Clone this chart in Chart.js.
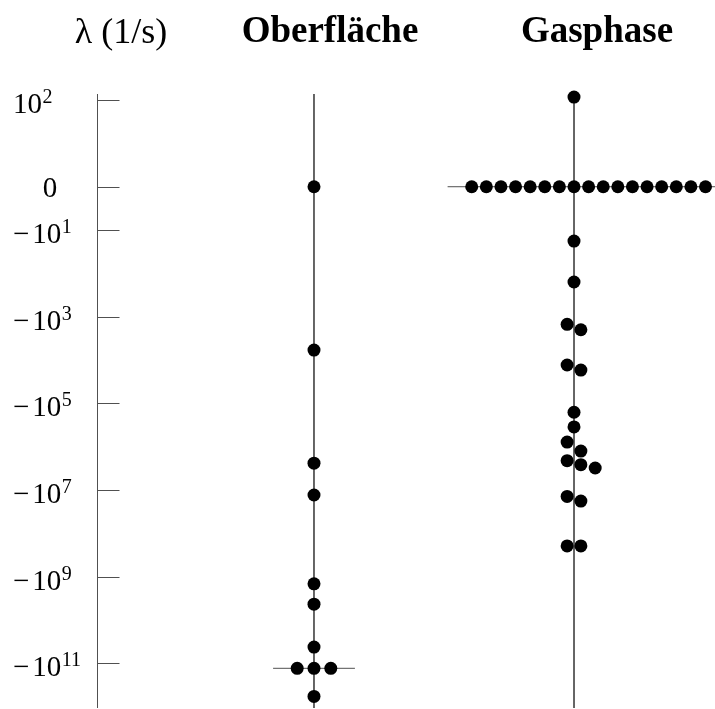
<!DOCTYPE html>
<html lang="de">
<head>
<meta charset="UTF-8">
<title>Eigenwerte Oberfläche / Gasphase</title>
<script src="https://cdn.jsdelivr.net/npm/chart.js@4.4.1/dist/chart.umd.min.js"></script>
<style>
  body { margin: 0; background: #fff; }
</style>
</head>
<body>
<canvas id="myChart" width="715" height="709"></canvas>
<script>
// Eigenwerte lambda (1/s)
const oberValues = [0, -5.9e3, -2.4e6, -1.3e7, -1.46e9, -4.3e9, -4.2e10, -1.3e11, -1.3e11, -1.3e11, -5.8e11];
const oberSlots  = [0, 0, 0, 0, 0, 0, 0, -1.15, 0, 1.15, 0];

const gasValues = [117,
  0, 0, 0, 0, 0, 0, 0, 0, 0, 0, 0, 0, 0, 0, 0, 0, 0,
  -18, -158, -1.5e3, -2.0e3, -1.3e4, -1.7e4, -1.6e5, -3.5e5, -7.8e5, -1.26e6,
  -2.1e6, -2.6e6, -3.1e6, -1.4e7, -1.8e7, -1.95e8, -1.95e8];
const gasSlots = [0,
  -7, -6, -5, -4, -3, -2, -1, 0, 1, 2, 3, 4, 5, 6, 7, 8, 9,
  0, 0, -0.47, 0.47, -0.47, 0.47, 0, 0, -0.47, 0.47,
  -0.47, 0.47, 1.45, -0.47, 0.47, -0.47, 0.47];

// Zeilen mit gleichen Werten bekommen eine waagerechte Linie
const oberRows = [-1.3e11];
const gasRows = [0];

const tickValues = [1e2, 0, -1e1, -1e3, -1e5, -1e7, -1e9, -1e11];
// [Vorzeichen, Basis, Exponent]
const tickLabels = [['', '10', '2'], ['', '0', ''], ['\u2212', '10', '1'], ['\u2212', '10', '3'],
                    ['\u2212', '10', '5'], ['\u2212', '10', '7'], ['\u2212', '10', '9'], ['\u2212', '10', '11']];

const titles = ['\u03bb (1/s)', 'Oberfl\u00e4che', 'Gasphase'];

// symmetrisch-logarithmische Achse
const symlog = v => v === 0 ? 0 : Math.sign(v) * Math.log10(Math.abs(v));

const yMin = -12.03, yMax = 2.14;
const slotStep = 0.0562;

function dots(col, values, slots) {
  return values.map((v, i) => ({ x: col + slots[i] * slotStep, y: symlog(v) }));
}

function rowLine(col, values, slots, rowValue) {
  const s = slots.filter((_, i) => values[i] === rowValue);
  return [
    { x: col + (Math.min(...s) - 1.65) * slotStep, y: symlog(rowValue) },
    { x: col + (Math.max(...s) + 1.65) * slotStep, y: symlog(rowValue) }
  ];
}

const lineStyle = {
  showLine: true, borderColor: '#505050', borderWidth: 1,
  pointRadius: 0, pointHoverRadius: 0, order: 2, clip: false
};
const dotStyle = {
  backgroundColor: '#000', borderWidth: 0, pointRadius: 6.5,
  pointHoverRadius: 6.5, order: 1, clip: false
};

const datasets = [
  { ...lineStyle, data: [{ x: 1, y: yMax }, { x: 1, y: yMin }] },
  { ...lineStyle, data: [{ x: 2, y: yMax }, { x: 2, y: yMin }] },
  ...oberRows.map(r => ({ ...lineStyle, data: rowLine(1, oberValues, oberSlots, r) })),
  ...gasRows.map(r => ({ ...lineStyle, data: rowLine(2, gasValues, gasSlots, r) })),
  { ...dotStyle, label: 'Oberfläche', data: dots(1, oberValues, oberSlots) },
  { ...dotStyle, label: 'Gasphase', data: dots(2, gasValues, gasSlots) }
];

const axisDecor = {
  id: 'axisDecor',
  afterDraw(chart) {
    const { ctx, chartArea, scales: { y } } = chart;
    ctx.save();
    ctx.strokeStyle = '#505050';
    ctx.lineWidth = 1;
    const ax = chartArea.left + 0.5;
    ctx.beginPath();
    ctx.moveTo(ax, chartArea.top);
    ctx.lineTo(ax, chartArea.bottom);
    ctx.stroke();

    ctx.fillStyle = '#000';
    ctx.textBaseline = 'alphabetic';
    tickValues.forEach((v, i) => {
      const py = Math.round(y.getPixelForValue(symlog(v))) + 0.5;
      ctx.beginPath();
      ctx.moveTo(ax, py);
      ctx.lineTo(ax + 22, py);
      ctx.stroke();
      const [sign, base, exp] = tickLabels[i];
      ctx.font = '29px "Liberation Serif"';
      if (!exp) {
        ctx.textAlign = 'center';
        ctx.fillText(base, 50, py + 9.5);
        return;
      }
      ctx.textAlign = 'left';
      let x = 13;
      if (sign) {
        ctx.fillText(sign, x, py + 12);
        x += ctx.measureText(sign).width + 3;
      }
      ctx.fillText(base, x, py + 12);
      x += ctx.measureText(base).width;
      ctx.font = '20px "Liberation Serif"';
      ctx.fillText(exp, x + 0.5, py + 2.5);
    });

    ctx.textAlign = 'center';
    ctx.font = '36px "Liberation Serif"';
    ctx.fillText(titles[0], 121, 43);
    ctx.font = 'bold 37px "Liberation Serif"';
    ctx.fillText(titles[1], 330, 42);
    ctx.fillText(titles[2], 597, 42);
    ctx.restore();
  }
};

new Chart(document.getElementById('myChart'), {
  type: 'scatter',
  data: { datasets },
  options: {
    responsive: false,
    animation: false,
    devicePixelRatio: 1,
    events: [],
    layout: { autoPadding: false, padding: { left: 97, top: 94, right: 0, bottom: 1 } },
    plugins: { legend: { display: false }, tooltip: { enabled: false } },
    scales: {
      x: { type: 'linear', display: false, min: 0.1654, max: 2.5423 },
      y: { type: 'linear', display: false, min: yMin, max: yMax }
    }
  },
  plugins: [axisDecor]
});
</script>
</body>
</html>
